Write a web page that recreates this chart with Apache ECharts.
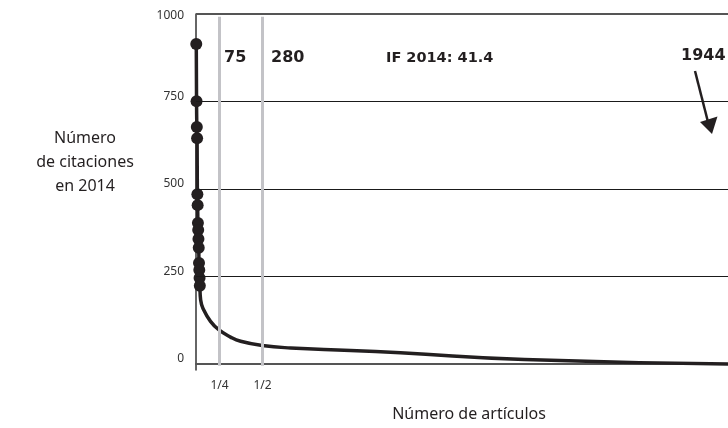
<!DOCTYPE html>
<html>
<head>
<meta charset="utf-8">
<script src="https://cdn.jsdelivr.net/npm/echarts@6/dist/echarts.min.js"></script>
<style>html,body{margin:0;padding:0;background:#fff;}#c{width:728px;height:428px;}</style>
</head>
<body>
<div id="c"></div>
<script>
// Top articles (each dot = one article): rank and citations in 2014
const topRanks = [1,2,3,4,5,6,7,8,9,10,11,12,13,14];
const topCitations = [914,751,677,645,485,454,403,383,357,332,289,269,246,224];
// Rest of the distribution curve (article rank, citations)
const tailRanks = [17,28,53,83,126,163,242,346,565,747,1200,1944];
const tailCitations = [183,155,122,98,77,65,53,46,39,32,13,0];
// Quartile markers (position on the article axis as drawn), labels, counts
const quartileX = [86, 243];
const quartileLabels = ['1/4', '1/2'];
const quartileCounts = ['75', '280'];
const yTicks = [0, 250, 500, 750, 1000];
const gridValues = [250, 500, 750];
const totalArticles = 1944;
const impactText = 'IF 2014: 41.4';

const chart = echarts.init(document.getElementById('c'), null, {renderer: 'canvas'});
const lineData = topRanks.map((r, i) => [r, topCitations[i]])
  .concat(tailRanks.map((r, i) => [r, tailCitations[i]]));
const dotData = topRanks.map((r, i) => [r, topCitations[i]]);
const ink = '#231f20';

chart.setOption({
  animation: false,
  grid: {left: 196, right: 0, top: 14, bottom: 58, containLabel: false},
  xAxis: {
    type: 'value', min: 0, max: totalArticles,
    axisLine: {show: true, lineStyle: {color: '#555', width: 2}},
    axisTick: {show: false},
    splitLine: {show: false},
    axisLabel: {
      customValues: quartileX,
      formatter: v => quartileLabels[quartileX.indexOf(v)] || '',
      color: '#333', fontSize: 12, fontFamily: 'Noto Sans', margin: 10
    }
  },
  yAxis: {
    type: 'value', min: -17, max: 1000,
    axisLine: {show: true, lineStyle: {color: '#333', width: 1.5}},
    axisTick: {show: false, customValues: yTicks},
    splitLine: {show: false},
    axisLabel: {
      customValues: yTicks,
      formatter: v => (v === 1000 ? '{t|' + v + '}' : '{n|' + v + '}'),
      color: '#333', fontSize: 12, fontFamily: 'Noto Sans', margin: 12,
      verticalAlign: 'middle',
      rich: {
        n: {color: '#333', fontSize: 12, fontFamily: 'Noto Sans', padding: [0, 0, 10, 0]},
        t: {color: '#333', fontSize: 12, fontFamily: 'Noto Sans', padding: [3, 0, 0, 0]}
      }
    }
  },
  series: [
    {
      type: 'line', data: [], z: 1, silent: true,
      markLine: {
        symbol: 'none', silent: true, animation: false,
        label: {show: false},
        data: gridValues.map(v => ({yAxis: v, lineStyle: {color: '#1a1a1a', width: 1.2, type: 'solid'}}))
          .concat([{yAxis: 1000, lineStyle: {color: '#555', width: 2, type: 'solid'}}])
          .concat(quartileX.map(x => [
            {coord: [x, 992], lineStyle: {color: '#c3c3c7', width: 3, type: 'solid'}},
            {coord: [x, -5]}
          ]))
      }
    },
    {
      type: 'line', data: lineData, z: 3,
      smooth: 0.5,
      symbol: 'none',
      lineStyle: {color: ink, width: 3.5, cap: 'round', join: 'round'}
    },
    {
      type: 'scatter', data: dotData, z: 4,
      symbolSize: 12,
      itemStyle: {color: ink, opacity: 1}
    }
  ],
  graphic: [
    {type: 'text', left: 224, top: 50, style: {text: quartileCounts[0], font: 'bold 16px "DejaVu Sans"', fill: ink}},
    {type: 'text', left: 271, top: 50, style: {text: quartileCounts[1], font: 'bold 16px "DejaVu Sans"', fill: ink}},
    {type: 'text', left: 386, top: 51, style: {text: impactText, font: 'bold 14.5px "DejaVu Sans"', fill: ink}},
    {type: 'text', left: 681, top: 48, style: {text: String(totalArticles), font: 'bold 16px "DejaVu Sans"', fill: ink}},
    {type: 'polyline', shape: {points: [[695, 71], [708, 122]]}, style: {stroke: ink, lineWidth: 2.5}},
    {type: 'polygon', shape: {points: [[700, 122], [717.5, 116.5], [712, 134]]}, style: {fill: ink}},
    {type: 'text', x: 85, y: 162, style: {
      text: 'Número\nde citaciones\nen 2014', align: 'center', verticalAlign: 'middle',
      font: '16px "Noto Sans"', lineHeight: 24, fill: ink}},
    {type: 'text', x: 469, y: 414, style: {
      text: 'Número de artículos', align: 'center', verticalAlign: 'middle',
      font: '16px "Noto Sans"', fill: ink}}
  ]
});
</script>
</body>
</html>
